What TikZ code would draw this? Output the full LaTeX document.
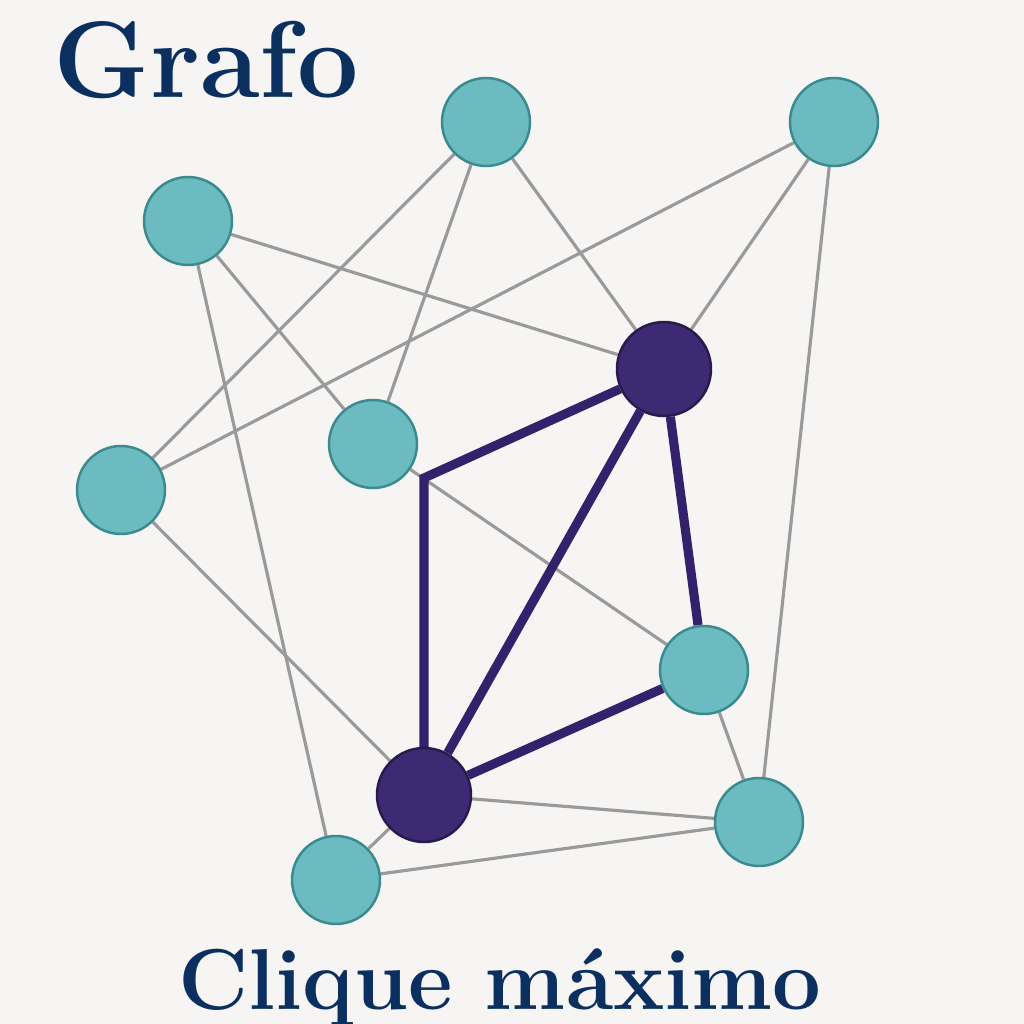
\documentclass[tikz,border=0pt]{standalone}
\usetikzlibrary{backgrounds}
\definecolor{paper}{HTML}{F6F5F3}
\definecolor{ink}{HTML}{0B3060}
\definecolor{tealfill}{HTML}{6BBBC0}
\definecolor{tealline}{HTML}{3A8A8E}
\definecolor{cliquefill}{HTML}{3D2A72}
\definecolor{cliqueline}{HTML}{271A4D}
\definecolor{cliqueedge}{HTML}{33226B}
\definecolor{edgegray}{HTML}{9A9A9A}
\tikzset{
  vert/.style={circle, minimum size=0.88cm, inner sep=0pt, fill=tealfill, draw=tealline, line width=0.7pt},
  cvert/.style={circle, minimum size=0.94cm, inner sep=0pt, fill=cliquefill, draw=cliqueline, line width=0.7pt},
  edge/.style={draw=edgegray, line width=0.9pt},
  cedge/.style={draw=cliqueedge, line width=2.6pt}
}
\begin{document}
\begin{tikzpicture}
\useasboundingbox (0,0) rectangle (10.24,10.24);

\node[vert] (a) at (4.86,9.02) {};
\node[vert] (b) at (8.34,9.02) {};
\node[vert] (c) at (1.88,8.03) {};
\node[cvert] (d) at (6.64,6.55) {};
\node[vert] (e) at (3.73,5.80) {};
\node[vert] (f) at (1.21,5.34) {};
\node[vert] (g) at (7.04,3.54) {};
\node[cvert] (h) at (4.24,2.29) {};
\node[vert] (i) at (7.59,2.02) {};
\node[vert] (j) at (3.36,1.44) {};
\coordinate (bend) at (4.24,5.46);

        \begin{pgfonlayer}{background}
        \fill[paper] (0,0) rectangle (10.24,10.24);
        \draw[edge] (c) -- (d) (c) -- (e) (c) -- (j);
        \draw[edge] (a) -- (f) (a) -- (e) (a) -- (d);
        \draw[edge] (b) -- (f) (b) -- (d) (b) -- (i);
        \draw[edge] (f) -- (h) (e) -- (g) (g) -- (i);
        \draw[edge] (h) -- (i) (j) -- (i) (h) -- (j);
        \draw[cedge] (h) -- (bend) -- (d);
        \draw[cedge] (d) -- (h) (d) -- (g) (h) -- (g);
        \end{pgfonlayer}

\node[anchor=base west, inner sep=0pt, text=ink, font=\bfseries\fontsize{31}{37}\selectfont] (title) at (0.53,9.26) {Grafo};
\node[anchor=base, inner sep=0pt, text=ink, font=\bfseries\fontsize{24.6}{29}\selectfont] (caption) at (5.00,0.15) {Clique máximo};
\end{tikzpicture}
\end{document}
